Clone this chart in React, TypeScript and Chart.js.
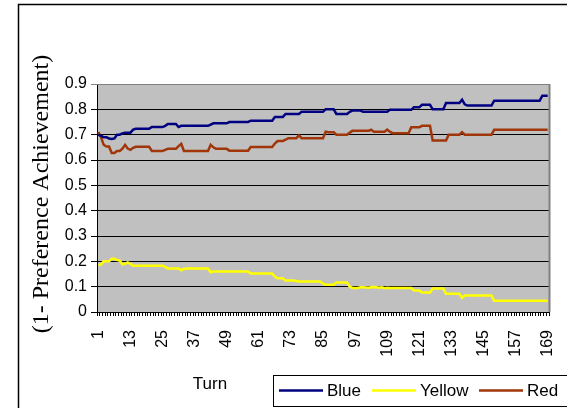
import { useEffect, useRef } from "react";
import { Chart, registerables } from "chart.js";

Chart.register(...registerables);

// Turns 1..169
const turns: string[] = Array.from({ length: 169 }, (_, i) => String(i + 1));

const xTickLabels = ["1", "13", "25", "37", "49", "61", "73", "85", "97", "109", "121", "133", "145", "157", "169"];
const yTickLabels = ["0", "0.1", "0.2", "0.3", "0.4", "0.5", "0.6", "0.7", "0.8", "0.9"];

const blue = [
  0.700, 0.695, 0.690, 0.690, 0.685, 0.683, 0.685, 0.700, 0.700, 0.705,
  0.708, 0.708, 0.708, 0.720, 0.723, 0.723, 0.723, 0.723, 0.723, 0.723,
  0.730, 0.730, 0.730, 0.730, 0.730, 0.735, 0.742, 0.742, 0.742, 0.742,
  0.730, 0.735, 0.735, 0.735, 0.735, 0.735, 0.735, 0.735, 0.735, 0.735,
  0.735, 0.735, 0.740, 0.745, 0.745, 0.745, 0.745, 0.745, 0.745, 0.750,
  0.750, 0.750, 0.750, 0.750, 0.750, 0.750, 0.750, 0.755, 0.755, 0.755,
  0.755, 0.755, 0.755, 0.755, 0.755, 0.755, 0.770, 0.770, 0.770, 0.770,
  0.782, 0.782, 0.782, 0.782, 0.782, 0.782, 0.790, 0.790, 0.790, 0.790,
  0.790, 0.790, 0.790, 0.790, 0.790, 0.800, 0.800, 0.800, 0.800, 0.782,
  0.782, 0.782, 0.782, 0.782, 0.790, 0.795, 0.795, 0.795, 0.795, 0.790,
  0.790, 0.790, 0.790, 0.790, 0.790, 0.790, 0.790, 0.790, 0.790, 0.798,
  0.798, 0.798, 0.798, 0.798, 0.798, 0.798, 0.798, 0.798, 0.808, 0.808,
  0.808, 0.818, 0.818, 0.818, 0.818, 0.800, 0.800, 0.800, 0.800, 0.800,
  0.825, 0.825, 0.825, 0.825, 0.825, 0.825, 0.838, 0.820, 0.815, 0.815,
  0.815, 0.815, 0.815, 0.815, 0.815, 0.815, 0.815, 0.815, 0.834, 0.834,
  0.834, 0.834, 0.834, 0.834, 0.834, 0.834, 0.834, 0.834, 0.834, 0.834,
  0.834, 0.834, 0.834, 0.834, 0.834, 0.834, 0.854, 0.854, 0.854,
];

const yellow = [
  0.184, 0.188, 0.200, 0.200, 0.200, 0.210, 0.210, 0.205, 0.203, 0.188,
  0.190, 0.196, 0.190, 0.183, 0.183, 0.183, 0.183, 0.183, 0.183, 0.183,
  0.183, 0.183, 0.183, 0.183, 0.183, 0.178, 0.172, 0.172, 0.172, 0.172,
  0.172, 0.165, 0.170, 0.172, 0.172, 0.172, 0.172, 0.172, 0.172, 0.172,
  0.172, 0.172, 0.157, 0.160, 0.160, 0.160, 0.160, 0.160, 0.160, 0.160,
  0.160, 0.160, 0.160, 0.160, 0.160, 0.160, 0.160, 0.152, 0.152, 0.152,
  0.152, 0.152, 0.152, 0.152, 0.152, 0.152, 0.140, 0.133, 0.133, 0.133,
  0.124, 0.124, 0.124, 0.124, 0.122, 0.120, 0.120, 0.120, 0.120, 0.120,
  0.120, 0.120, 0.120, 0.120, 0.112, 0.108, 0.108, 0.108, 0.108, 0.116,
  0.116, 0.116, 0.116, 0.116, 0.100, 0.095, 0.095, 0.095, 0.098, 0.098,
  0.097, 0.096, 0.098, 0.099, 0.098, 0.096, 0.098, 0.094, 0.096, 0.095,
  0.095, 0.095, 0.095, 0.095, 0.095, 0.095, 0.095, 0.095, 0.085, 0.085,
  0.085, 0.077, 0.077, 0.077, 0.077, 0.093, 0.093, 0.093, 0.093, 0.093,
  0.072, 0.072, 0.072, 0.072, 0.072, 0.072, 0.056, 0.065, 0.065, 0.065,
  0.065, 0.065, 0.065, 0.065, 0.065, 0.065, 0.065, 0.065, 0.044, 0.044,
  0.044, 0.044, 0.044, 0.044, 0.044, 0.044, 0.044, 0.044, 0.044, 0.044,
  0.044, 0.044, 0.044, 0.044, 0.044, 0.044, 0.044, 0.044, 0.044,
];

const red = [
  0.710, 0.690, 0.660, 0.653, 0.653, 0.628, 0.628, 0.636, 0.636, 0.645,
  0.660, 0.645, 0.640, 0.648, 0.652, 0.652, 0.652, 0.652, 0.652, 0.652,
  0.636, 0.636, 0.636, 0.636, 0.636, 0.640, 0.644, 0.644, 0.644, 0.644,
  0.655, 0.664, 0.636, 0.636, 0.636, 0.636, 0.636, 0.636, 0.636, 0.636,
  0.636, 0.636, 0.660, 0.650, 0.644, 0.644, 0.644, 0.644, 0.644, 0.637,
  0.637, 0.637, 0.637, 0.637, 0.637, 0.637, 0.637, 0.651, 0.651, 0.651,
  0.651, 0.651, 0.651, 0.651, 0.651, 0.651, 0.665, 0.675, 0.675, 0.675,
  0.680, 0.686, 0.686, 0.686, 0.686, 0.697, 0.686, 0.686, 0.686, 0.686,
  0.686, 0.686, 0.686, 0.686, 0.686, 0.712, 0.710, 0.710, 0.710, 0.700,
  0.700, 0.700, 0.700, 0.700, 0.708, 0.715, 0.715, 0.715, 0.715, 0.715,
  0.715, 0.715, 0.720, 0.712, 0.712, 0.712, 0.712, 0.712, 0.720, 0.712,
  0.706, 0.706, 0.706, 0.706, 0.706, 0.706, 0.706, 0.729, 0.729, 0.729,
  0.729, 0.735, 0.735, 0.735, 0.735, 0.677, 0.677, 0.677, 0.677, 0.677,
  0.677, 0.700, 0.700, 0.700, 0.700, 0.700, 0.710, 0.700, 0.700, 0.700,
  0.700, 0.700, 0.700, 0.700, 0.700, 0.700, 0.700, 0.700, 0.719, 0.719,
  0.719, 0.719, 0.719, 0.719, 0.719, 0.719, 0.719, 0.719, 0.719, 0.719,
  0.719, 0.719, 0.719, 0.719, 0.719, 0.719, 0.719, 0.719, 0.719,
];

const seriesNames = ["Blue", "Yellow", "Red"];
const seriesColors = ["#000080", "#FFFF00", "#A0360A"];

const SANS = 'Arial, "Liberation Sans", sans-serif';
const SERIF = '"Times New Roman", "Liberation Serif", serif';

const decorations = {
  id: "decorations",
  beforeDraw(chart: any) {
    const { ctx, chartArea: a, width, height } = chart;
    ctx.save();
    ctx.fillStyle = "#ffffff";
    ctx.fillRect(0, 0, width, height);
    ctx.fillStyle = "#C0C0C0";
    ctx.fillRect(a.left, a.top, a.right - a.left, a.bottom - a.top);
    ctx.restore();
  },
  afterDraw(chart: any) {
    const { ctx, chartArea: a, width, height } = chart;
    ctx.save();
    // outer frame
    ctx.strokeStyle = "#000";
    ctx.lineWidth = 1.5;
    ctx.beginPath();
    ctx.moveTo(width + 2, 4.5);
    ctx.lineTo(18.5, 4.5);
    ctx.lineTo(18.5, height + 2);
    ctx.stroke();

    // plot frame: top and right in grey
    ctx.strokeStyle = "#808080";
    ctx.lineWidth = 1;
    ctx.beginPath();
    ctx.moveTo(a.left, a.top + 0.5);
    ctx.lineTo(a.right, a.top + 0.5);
    ctx.stroke();
    ctx.lineWidth = 2;
    ctx.beginPath();
    ctx.moveTo(a.right + 0.5, a.top);
    ctx.lineTo(a.right + 0.5, a.bottom);
    ctx.stroke();

    // y-axis title
    ctx.fillStyle = "#000";
    ctx.font = `24px ${SERIF}`;
    ctx.textAlign = "center";
    ctx.textBaseline = "middle";
    ctx.translate(42, 194);
    ctx.rotate(-Math.PI / 2);
    ctx.fillText("(1- Preference Achievement)", 0, 0);
    ctx.setTransform(1, 0, 0, 1, 0, 0);

    // x-axis title
    ctx.font = `17px ${SANS}`;
    ctx.fillText("Turn", 210, 384);

    // legend
    ctx.strokeStyle = "#000";
    ctx.lineWidth = 1;
    ctx.strokeRect(273.5, 375.5, 310, 31);
    const items = [
      { line: 279, text: 327 },
      { line: 372, text: 420 },
      { line: 479, text: 527 },
    ];
    ctx.textAlign = "left";
    ctx.font = `17px ${SANS}`;
    chart.data.datasets.forEach((ds: any, i: number) => {
      const it = items[i];
      ctx.strokeStyle = ds.borderColor;
      ctx.lineWidth = 2.5;
      ctx.beginPath();
      ctx.moveTo(it.line, 390.5);
      ctx.lineTo(it.line + 44, 390.5);
      ctx.stroke();
      ctx.fillStyle = "#000";
      ctx.fillText(ds.label, it.text, 391);
    });
    ctx.restore();
  },
};

export default function App() {
  const canvasRef = useRef<HTMLCanvasElement | null>(null);

  useEffect(() => {
    const canvas = canvasRef.current;
    if (!canvas) return;
    const values = [blue, yellow, red];
    const chart = new Chart(canvas, {
      type: "line",
      data: {
        labels: turns,
        datasets: values.map((v, i) => ({
          label: seriesNames[i],
          data: v,
          borderColor: seriesColors[i],
          backgroundColor: seriesColors[i],
          borderWidth: 2.5,
          pointRadius: 0,
          tension: 0,
          fill: false,
        })),
      },
      options: {
        responsive: false,
        animation: false,
        devicePixelRatio: 1,
        layout: { padding: { left: 0, right: 18, top: 84, bottom: 0 } },
        plugins: {
          legend: { display: false },
          tooltip: { enabled: false },
          title: { display: false },
        },
        scales: {
          x: {
            type: "category",
            offset: true,
            grid: {
              offset: true,
              drawOnChartArea: false,
              drawTicks: true,
              tickLength: 4,
              color: "#000",
              lineWidth: 1,
            },
            border: { display: true, color: "#000", width: 1 },
            ticks: {
              autoSkip: false,
              minRotation: 90,
              maxRotation: 90,
              padding: 14,
              color: "#000",
              font: { family: SANS, size: 16 },
              callback: (_v: any, index: number) => {
                const l = turns[index];
                return xTickLabels.includes(l) ? l : "";
              },
            },
            afterFit: (scale: any) => {
              scale.height = 96;
              scale.paddingLeft = 0;
              scale.paddingRight = 0;
            },
          },
          y: {
            min: 0,
            max: 0.9,
            grid: {
              color: (c: any) => (c.tick && c.tick.value > 0.89 ? "#808080" : "#000"),
              lineWidth: 1,
              tickLength: 6,
              drawTicks: true,
            },
            border: { display: true, color: "#000", width: 1 },
            ticks: {
              stepSize: 0.1,
              padding: 4,
              color: "#000",
              font: { family: SANS, size: 16 },
              callback: (v: any) => yTickLabels[Math.round(Number(v) * 10)],
            },
            afterFit: (scale: any) => {
              scale.width = 97;
              scale.paddingTop = 0;
              scale.paddingBottom = 0;
            },
          },
        },
      },
      plugins: [decorations],
    });
    return () => chart.destroy();
  }, []);

  return (
    <div style={{ position: "absolute", left: 0, top: 0, width: 567, height: 408 }}>
      <canvas ref={canvasRef} width={567} height={408} />
    </div>
  );
}
